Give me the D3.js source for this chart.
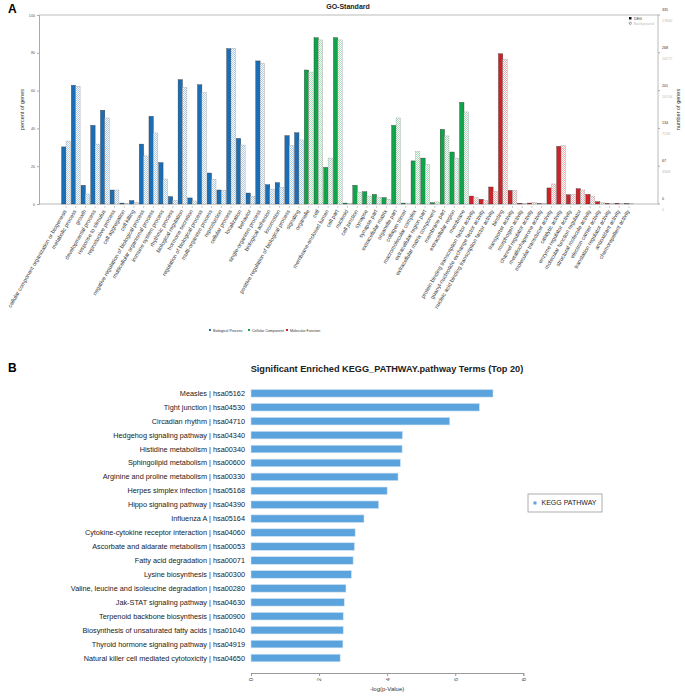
<!DOCTYPE html>
<html>
<head>
<meta charset="utf-8">
<script src="https://cdn.jsdelivr.net/npm/d3@7"></script>
<style>
  body { margin: 0; background: #fff; }
  svg { font-family: "Liberation Sans", Arial, Helvetica, sans-serif; display: block; }
</style>
</head>
<body>
<div id="chart"></div>
<script>
// ---- Panel A data (GO level 2) ----
const bpTerms = [
  'cellular component organization or biogenesis', 'metabolic process', 'growth',
  'developmental process', 'response to stimulus', 'reproductive process', 'cell aggregation',
  'cell killing', 'negative regulation of biological process', 'multicellular organismal process',
  'immune system process', 'rhythmic process', 'biological regulation', 'hormone secretion',
  'regulation of biological process', 'multi-organism process', 'reproduction', 'cellular process',
  'localization', 'behavior', 'single-organism process', 'biological adhesion', 'locomotion',
  'positive regulation of biological process', 'signaling'
];
const bpDeg = [30.2, 62.8, 9.9, 41.6, 49.6, 7.4, 0.5, 1.8, 31.7, 46.4, 21.9, 3.9, 65.8, 3.2, 63.1, 16.4, 7.4, 82.2, 34.7, 5.8, 75.7, 10.2, 11.3, 36.2, 37.7];
const bpBg  = [33.3, 62.3, 5.3, 31.7, 45.5, 7.4, 0.3, 0.9, 25.4, 37.6, 13.2, 1.9, 61.7, 1.6, 58.9, 13.1, 7.2, 82.4, 31.2, 4.1, 74.4, 7.9, 8.8, 30.9, 33.9];

const ccTerms = [
  'organelle', 'cell', 'membrane-enclosed lumen', 'cell part', 'nucleoid', 'cell junction',
  'synapse', 'synapse part', 'extracellular matrix', 'organelle part', 'collagen trimer',
  'macromolecular complex', 'extracellular region part', 'extracellular matrix component',
  'membrane part', 'extracellular region', 'membrane'
];
const ccDeg = [70.9, 88.0, 19.4, 88.0, 0.5, 9.9, 6.5, 5.1, 3.4, 41.6, 0.5, 22.8, 24.3, 0.7, 39.5, 27.5, 53.8];
const ccBg  = [69.8, 86.8, 24.3, 86.8, 0.3, 6.3, 4.2, 3.4, 2.5, 45.5, 0.5, 27.7, 20.8, 1.1, 36.0, 24.3, 48.7];

const mfTerms = [
  'protein binding transcription factor activity', 'guanyl-nucleotide exchange factor activity',
  'nucleic acid binding transcription factor activity', 'binding', 'transporter activity',
  'morphogen activity', 'channel regulator activity', 'metallochaperone activity',
  'molecular transducer activity', 'catalytic activity', 'enzyme regulator activity',
  'molecular function regulator', 'structural molecule activity', 'electron carrier activity',
  'translation regulator activity', 'antioxidant activity', 'chemorepellent activity'
];
const mfDeg = [4.2, 2.5, 9.0, 79.5, 7.2, 0.4, 0.5, 0.1, 8.5, 30.5, 4.9, 8.1, 5.1, 1.2, 0.3, 0.4, 0.1];
const mfBg  = [3.4, 1.8, 6.7, 76.5, 7.1, 0.2, 0.9, 0.2, 10.6, 30.9, 5.1, 7.4, 4.2, 0.7, 0.4, 0.4, 0.1];

const percentTicks = [0, 20, 40, 60, 80, 100];
const degCountTicks = [0, 67, 134, 201, 268, 335];
const bgCountTicks = [0, 3568, 7136, 10704, 14272, 17840];

// ---- Panel B data (KEGG top 20) ----
const keggTerms = [
  'Measles | hsa05162', 'Tight junction | hsa04530', 'Circadian rhythm | hsa04710',
  'Hedgehog signaling pathway | hsa04340', 'Histidine metabolism | hsa00340',
  'Sphingolipid metabolism | hsa00600', 'Arginine and proline metabolism | hsa00330',
  'Herpes simplex infection | hsa05168', 'Hippo signaling pathway | hsa04390',
  'Influenza A | hsa05164', 'Cytokine-cytokine receptor interaction | hsa04060',
  'Ascorbate and aldarate metabolism | hsa00053', 'Fatty acid degradation | hsa00071',
  'Lysine biosynthesis | hsa00300', 'Valine, leucine and isoleucine degradation | hsa00280',
  'Jak-STAT signaling pathway | hsa04630', 'Terpenoid backbone biosynthesis | hsa00900',
  'Biosynthesis of unsaturated fatty acids | hsa01040', 'Thyroid hormone signaling pathway | hsa04919',
  'Natural killer cell mediated cytotoxicity | hsa04650'
];
const keggLogP = [7.11, 6.71, 5.84, 4.45, 4.44, 4.39, 4.32, 4.0, 3.75, 3.32, 3.06, 3.04, 3.0, 2.95, 2.79, 2.74, 2.71, 2.71, 2.70, 2.62];
const keggTicks = [0, 2, 4, 6, 8];

// ---- Build ----
const groups = [
  { name: 'Biological Process', terms: bpTerms, deg: bpDeg, bg: bpBg, color: '#1b6db4', light: '#a9cbe8', id: 'hbp' },
  { name: 'Cellular Component', terms: ccTerms, deg: ccDeg, bg: ccBg, color: '#10a34a', light: '#a6dcb6', id: 'hcc' },
  { name: 'Molecular Function', terms: mfTerms, deg: mfDeg, bg: mfBg, color: '#cc2229', light: '#efaeae', id: 'hmf' }
];
const goRows = [];
groups.forEach(g => g.terms.forEach((t, i) => goRows.push({ term: t, deg: g.deg[i], bg: g.bg[i], group: g })));

const width = 685, height = 697;
const svg = d3.select('#chart').append('svg')
  .attr('width', width)
  .attr('height', height);

// hatch patterns for background bars
const defs = svg.append('defs');
function hatch(id, color) {
  const p = defs.append('pattern')
    .attr('id', id)
    .attr('patternUnits', 'userSpaceOnUse')
    .attr('width', 2).attr('height', 2);
  p.append('rect').attr('width', 2).attr('height', 2).attr('fill', '#fff');
  p.append('rect').attr('width', 1).attr('height', 1).attr('fill', color);
  p.append('rect').attr('x', 1).attr('y', 1).attr('width', 1).attr('height', 1).attr('fill', color);
}
groups.forEach(g => hatch(g.id, g.light));
hatch('hgrey', '#999');

// ================= Panel A =================
const A = { left: 39, right: 658, top: 15, bottom: 204 };
const x = d3.scalePoint().domain(goRows.map(d => d.term)).range([66, 629]);
const y = d3.scaleLinear().domain([0, 100]).range([A.bottom, A.top]);
const yDeg = d3.scaleLinear().domain([0, 335]).range([A.bottom, A.top]);
const yBg = d3.scaleLinear().domain([0, 17840]).range([A.bottom, A.top]);
const bw = 4.4;

svg.append('text')
  .attr('x', 8).attr('y', 13)
  .attr('font-size', 12).attr('font-weight', 'bold')
  .text('A');

svg.append('text')
  .attr('x', 348).attr('y', 9)
  .attr('text-anchor', 'middle')
  .attr('font-size', 7).attr('font-weight', 'bold').attr('fill', '#222')
  .text('GO-Standard');

// frame
const frame = svg.append('g').attr('stroke', '#aaa').attr('stroke-width', 0.8);
frame.append('line').attr('x1', A.left).attr('x2', A.right).attr('y1', A.top).attr('y2', A.top);
frame.append('line').attr('x1', A.left).attr('x2', A.right).attr('y1', A.bottom).attr('y2', A.bottom);

// left axis
svg.append('g')
  .attr('transform', `translate(${A.left},0)`)
  .call(d3.axisLeft(y).tickValues(percentTicks).tickSize(2).tickPadding(2))
  .call(g => g.select('.domain').attr('stroke', '#aaa'))
  .call(g => g.selectAll('.tick line').attr('stroke', '#aaa'))
  .call(g => g.selectAll('text').attr('font-size', 3.7).attr('fill', '#555').attr('font-family', null));

svg.append('text')
  .attr('transform', `translate(24,${(A.top + A.bottom) / 2}) rotate(-90)`)
  .attr('text-anchor', 'middle')
  .attr('font-size', 5.5).attr('fill', '#333')
  .text('percent of genes');

// right axis: two label columns (DEG counts above tick, background counts below)
const rAxis = svg.append('g').attr('transform', `translate(${A.right},0)`);
rAxis.append('line').attr('y1', A.top).attr('y2', A.bottom).attr('stroke', '#aaa').attr('stroke-width', 0.8);
rAxis.selectAll('line.tk')
  .data(degCountTicks)
  .join('line')
    .attr('class', 'tk')
    .attr('x1', 0).attr('x2', 2)
    .attr('y1', d => yDeg(d)).attr('y2', d => yDeg(d))
    .attr('stroke', '#aaa');
rAxis.selectAll('text.deg')
  .data(degCountTicks)
  .join('text')
    .attr('class', 'deg')
    .attr('x', 4).attr('y', d => yDeg(d) - 4)
    .attr('font-size', 3.7).attr('fill', '#333')
    .text(d => d);
rAxis.selectAll('text.bg')
  .data(bgCountTicks)
  .join('text')
    .attr('class', 'bg')
    .attr('x', 4).attr('y', d => yBg(d) + 7)
    .attr('font-size', 3.7).attr('fill', '#bbb')
    .text(d => d);

svg.append('text')
  .attr('transform', `translate(680,${(A.top + A.bottom) / 2}) rotate(-90)`)
  .attr('text-anchor', 'middle')
  .attr('font-size', 5.5).attr('fill', '#333')
  .text('number of genes');

// bars
const bars = svg.append('g');
bars.selectAll('rect.deg')
  .data(goRows)
  .join('rect')
    .attr('class', 'deg')
    .attr('x', d => x(d.term) - bw)
    .attr('y', d => y(d.deg))
    .attr('width', bw)
    .attr('height', d => A.bottom - y(d.deg))
    .attr('fill', d => d.group.color)
    .attr('stroke', '#333').attr('stroke-width', 0.35);
bars.selectAll('rect.bg')
  .data(goRows)
  .join('rect')
    .attr('class', 'bg')
    .attr('x', d => x(d.term))
    .attr('y', d => y(d.bg))
    .attr('width', bw)
    .attr('height', d => A.bottom - y(d.bg))
    .attr('fill', d => `url(#${d.group.id})`)
    .attr('stroke', '#999').attr('stroke-width', 0.35);

// x tick marks + rotated labels
svg.append('g')
  .selectAll('line')
  .data(goRows)
  .join('line')
    .attr('x1', d => x(d.term)).attr('x2', d => x(d.term))
    .attr('y1', 206).attr('y2', 208)
    .attr('stroke', '#999').attr('stroke-width', 0.5);
svg.append('g')
  .selectAll('text')
  .data(goRows)
  .join('text')
    .attr('transform', d => `translate(${x(d.term) + 1},211) rotate(-60)`)
    .attr('text-anchor', 'end')
    .attr('font-size', 5.5).attr('fill', '#333')
    .text(d => d.term);

// top-right legend
const legA = svg.append('g').attr('transform', 'translate(629,17)');
legA.append('rect').attr('width', 2.5).attr('height', 2.5).attr('fill', '#111');
legA.append('text').attr('x', 5).attr('y', 2.5).attr('font-size', 3.7).attr('fill', '#333').text('DEG');
legA.append('rect').attr('y', 5).attr('width', 2.5).attr('height', 2.5).attr('fill', 'url(#hgrey)').attr('stroke', '#777').attr('stroke-width', 0.3);
legA.append('text').attr('x', 5).attr('y', 7.5).attr('font-size', 3.7).attr('fill', '#bbb').text('Background');

// bottom legend
const legX = [210, 249, 287];
const legB = svg.append('g')
  .selectAll('g')
  .data(groups)
  .join('g')
    .attr('transform', (d, i) => `translate(${legX[i]},331)`);
legB.append('rect').attr('x', -1).attr('y', -2).attr('width', 2).attr('height', 2).attr('fill', d => d.color);
legB.append('text').attr('x', 3).attr('y', 0.8).attr('font-size', 3.6).attr('fill', '#333').text(d => d.name);

// ================= Panel B =================
const B = { left: 251, right: 523.3, top: 393.3, bottom: 658, axisY: 673 };
const xk = d3.scaleLinear().domain([0, 8]).range([B.left, B.right]);
const yk = d3.scalePoint().domain(keggTerms).range([B.top, B.bottom]);
const bh = 7.6;

svg.append('text')
  .attr('x', 8).attr('y', 372)
  .attr('font-size', 12).attr('font-weight', 'bold')
  .text('B');

svg.append('text')
  .attr('x', 387).attr('y', 372)
  .attr('text-anchor', 'middle')
  .attr('font-size', 9.2).attr('font-weight', 'bold').attr('fill', '#222')
  .text('Significant Enriched KEGG_PATHWAY.pathway Terms (Top 20)');

svg.append('g')
  .selectAll('rect')
  .data(keggTerms)
  .join('rect')
    .attr('x', xk(0))
    .attr('y', d => yk(d) - bh / 2)
    .attr('width', (d, i) => xk(keggLogP[i]) - xk(0))
    .attr('height', bh)
    .attr('fill', '#5ba3dc')
    .attr('stroke', '#cfe3f4').attr('stroke-width', 0.6);

svg.append('g')
  .selectAll('text')
  .data(keggTerms)
  .join('text')
    .attr('x', 245)
    .attr('y', d => yk(d) + 2.5)
    .attr('text-anchor', 'end')
    .attr('font-size', 7.3).attr('fill', '#222')
    .text(d => d);

svg.append('g')
  .attr('transform', `translate(0,${B.axisY})`)
  .call(d3.axisBottom(xk).tickValues(keggTicks).tickSize(3).tickPadding(2))
  .call(g => g.select('.domain').attr('stroke', '#999'))
  .call(g => g.selectAll('.tick line').attr('stroke', '#999'))
  .call(g => g.selectAll('text')
    .attr('font-size', 6).attr('fill', '#444').attr('font-family', null)
    .attr('transform', 'rotate(-90)')
    .attr('text-anchor', 'end')
    .attr('x', -5).attr('y', 0).attr('dy', '0.32em'));

svg.append('text')
  .attr('x', (B.left + B.right) / 2).attr('y', 691)
  .attr('text-anchor', 'middle')
  .attr('font-size', 6).attr('fill', '#333')
  .text('-log(p-Value)');

// KEGG legend box
const legK = svg.append('g').attr('transform', 'translate(528,494)');
legK.append('rect').attr('width', 74).attr('height', 18).attr('fill', '#fff').attr('stroke', '#999').attr('stroke-width', 0.8);
legK.append('rect').attr('x', 5.5).attr('y', 7.5).attr('width', 3).attr('height', 3).attr('fill', '#5ba3dc');
legK.append('text').attr('x', 13.5).attr('y', 11.3).attr('font-size', 7).attr('fill', '#222').text('KEGG PATHWAY');
</script>
</body>
</html>
